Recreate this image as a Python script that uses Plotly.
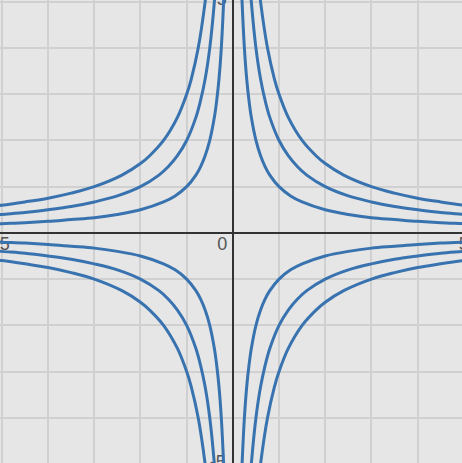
import plotly.graph_objects as go

# Points (first quadrant); the other quadrants are mirrors
x_c1 = [0.18, 0.2, 0.25, 0.3, 0.35, 0.4, 0.5, 0.6, 0.7, 0.8, 1.0, 1.25, 1.5, 2.0, 2.5, 3.0, 3.5, 4.0, 4.5, 5.0, 5.2]
y_c1 = [5.56, 5.0, 4.0, 3.33, 2.86, 2.5, 2.0, 1.67, 1.43, 1.25, 1.0, 0.8, 0.67, 0.5, 0.4, 0.33, 0.29, 0.25, 0.22, 0.2, 0.19]

x_c2 = [0.36, 0.4, 0.5, 0.6, 0.7, 0.8, 1.0, 1.2, 1.4, 1.6, 2.0, 2.5, 3.0, 3.5, 4.0, 4.5, 5.0, 5.2]
y_c2 = [5.56, 5.0, 4.0, 3.33, 2.86, 2.5, 2.0, 1.67, 1.43, 1.25, 1.0, 0.8, 0.67, 0.57, 0.5, 0.44, 0.4, 0.38]

x_c3 = [0.54, 0.6, 0.75, 0.9, 1.0, 1.2, 1.5, 1.8, 2.0, 2.4, 3.0, 3.5, 4.0, 4.5, 5.0, 5.2]
y_c3 = [5.56, 5.0, 4.0, 3.33, 3.0, 2.5, 2.0, 1.67, 1.5, 1.25, 1.0, 0.86, 0.75, 0.67, 0.6, 0.58]

# Axis labels (drawn inside the plot, like a graphing calculator)
x_label_pos = [-5, 5]
x_label_text = ['-5', '5']
y_label_pos = [5, -5]
y_label_text = ['5', '-5']
origin_label = '0'

LINE_COLOR = '#3873b0'
LABEL_FONT = dict(size=18, color='#555555')
PX = 1 / 46.2  # one pixel in data units

fig = go.Figure()

# labels first so the curves sit on top of them (offsets in pixels -> data units)
fig.add_trace(go.Scatter(
    x=x_label_pos, y=[-13 * PX] * len(x_label_pos), mode='text', text=x_label_text,
    textposition='middle center', textfont=LABEL_FONT, hoverinfo='skip',
))
fig.add_trace(go.Scatter(
    x=[-11 * PX, -15 * PX], y=[v + 1 * PX if v > 0 else v for v in y_label_pos],
    mode='text', text=y_label_text,
    textposition='middle center', textfont=LABEL_FONT, hoverinfo='skip',
))
fig.add_trace(go.Scatter(
    x=[-10.5 * PX], y=[-13 * PX], mode='text', text=[origin_label],
    textposition='middle center', textfont=LABEL_FONT, hoverinfo='skip',
))

# one curve per quadrant for each of the three branches
for xs, ys in [(x_c1, y_c1), (x_c2, y_c2), (x_c3, y_c3)]:
    for sx, sy in [(1, 1), (-1, -1), (-1, 1), (1, -1)]:
        fig.add_trace(go.Scatter(
            x=[sx * v for v in xs],
            y=[sy * v for v in ys],
            mode='lines',
            line=dict(color=LINE_COLOR, width=3, shape='spline', smoothing=1),
            hoverinfo='skip',
        ))

axis_style = dict(
    dtick=1,
    showticklabels=False,
    showgrid=True,
    gridcolor='#d0d0d0',
    gridwidth=1.5,
    zeroline=True,
    zerolinecolor='#333333',
    zerolinewidth=2,
    showline=False,
    fixedrange=True,
)

fig.update_layout(
    width=462,
    height=463,
    margin=dict(l=0, r=0, t=0, b=0),
    paper_bgcolor='#e6e6e6',
    plot_bgcolor='#e6e6e6',
    showlegend=False,
    font=dict(family='Arial, Liberation Sans, sans-serif'),
    xaxis=dict(range=[-5.04, 4.96], **axis_style),
    yaxis=dict(range=[-4.98, 5.04], **axis_style),
)

# drop the page's default body margin so the chart fills the window
fig.write_html(
    "out.html",
    config={'displayModeBar': False},
    post_script="document.body.style.margin='0';",
)
